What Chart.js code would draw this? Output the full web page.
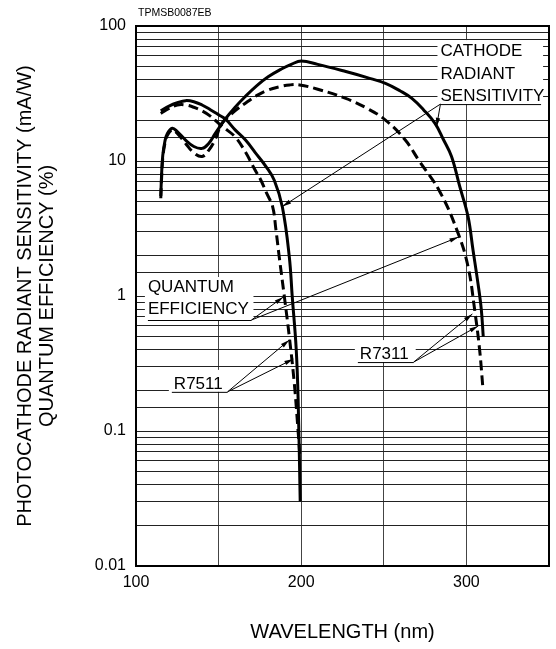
<!DOCTYPE html>
<html>
<head>
<meta charset="utf-8">
<script src="https://cdn.jsdelivr.net/npm/chart.js@4.4.0/dist/chart.umd.min.js"></script>
<style>
html, body { margin: 0; padding: 0; background: #fff; }
</style>
</head>
<body>
<canvas id="chart" width="556" height="649"></canvas>
<script>
// wavelength (nm) / value pairs
var r7511RadNm  = [115, 120, 125, 130, 135, 140, 145, 150, 154.2, 160, 166.3, 172.3, 178.7, 183.7, 188.6, 192.8, 194.6, 197, 198.2, 199.4];
var r7511RadVal = [23.5, 25.5, 27, 28, 27.5, 26, 24, 22, 20.4, 17, 14.3, 11.5, 9.1, 7.2, 4.56, 1.95, 0.98, 0.4, 0.16, 0.03];

var r7511QeNm  = [115, 120, 125, 130, 135, 140, 145, 150, 155, 160, 166, 172, 175.6, 179, 182.7, 184.7, 186.7, 189.8, 192.8, 195.8, 198.2, 199.2];
var r7511QeVal = [22.5, 24.5, 26, 26, 25, 23.5, 21.5, 19, 17, 15.1, 11.8, 8.6, 7.2, 5.8, 4.6, 3.1, 1.95, 0.99, 0.5, 0.227, 0.097, 0.065];

var r7311RadNm  = [115, 115.5, 116.2, 117.5, 119, 122, 125, 130, 135, 140, 144, 148, 154, 160, 166, 173, 180, 188, 194, 200, 210, 227, 240, 251, 260, 267, 274, 281, 286, 291, 296, 301, 304, 307, 309, 310.2];
var r7311RadVal = [5.5, 8, 11, 14, 16, 17.5, 16.5, 14.3, 12.8, 12.4, 13.5, 16, 20.4, 25, 29.9, 36, 42, 48, 52, 55, 52, 46, 41.5, 37.6, 33, 29.1, 24, 19, 14.5, 10.8, 6.45, 3.87, 2.19, 1.24, 0.8, 0.5];

var r7311QeNm  = [115, 115.5, 116.2, 117.5, 119, 122, 125, 130, 135, 140, 144, 148, 152, 159, 166, 173, 180, 187, 193, 199, 210, 227, 240, 251, 263, 271, 284, 295, 301, 305, 308, 310];
var r7311QeVal = [5.3, 7.5, 10.5, 13.5, 15.5, 17, 16, 13.5, 11.5, 10.8, 12, 14.5, 19, 23, 26.7, 30.5, 33.6, 35.5, 36.6, 36.6, 34, 29.1, 24.5, 20.1, 14.3, 10.2, 5.9, 2.91, 1.65, 0.79, 0.4, 0.207];

var xTickLabels = [100, 200, 300];
var yTickLabels = [0.01, 0.1, 1, 10, 100];

// callouts: text, underline (nm from/to, value), arrow targets (nm, value)
var notes = [
    {text: ['CATHODE', 'RADIANT', 'SENSITIVITY'], x0: 284.3, x1: 345.2, y: 26.4, pad: 0, gap: 3, from: 'left', to: [[188.6, 4.6], [281.9, 17.9]]},
    {text: ['QUANTUM', 'EFFICIENCY'], x0: 107.2, x1: 169.9, y: 0.664, pad: 0, gap: 6, from: 'right', to: [[189.2, 0.983], [295.2, 2.73]]},
    {text: ['R7511'], x0: 121.7, x1: 155.4, y: 0.195, pad: 2, gap: 3, from: 'right', to: [[192.8, 0.472], [195.2, 0.341]]},
    {text: ['R7311'], x0: 234.3, x1: 268.1, y: 0.324, pad: 2, gap: 3, from: 'right', to: [[303.6, 0.736], [307.2, 0.6]]}
];

function pts(xs, ys) {
    return xs.map((x, i) => ({x: x, y: ys[i]}));
}

var FONT = '"Liberation Sans", Arial, sans-serif';

function arrow(ctx, x1, y1, x2, y2) {
    ctx.beginPath();
    ctx.moveTo(x1, y1);
    ctx.lineTo(x2, y2);
    ctx.stroke();
    var a = Math.atan2(y2 - y1, x2 - x1);
    var len = 9, w = 2.2;
    ctx.beginPath();
    ctx.moveTo(x2, y2);
    ctx.lineTo(x2 - len * Math.cos(a) + w * Math.sin(a), y2 - len * Math.sin(a) - w * Math.cos(a));
    ctx.lineTo(x2 - len * Math.cos(a) - w * Math.sin(a), y2 - len * Math.sin(a) + w * Math.cos(a));
    ctx.closePath();
    ctx.fill();
}

var extras = {
    id: 'extras',
    afterDatasetsDraw(chart) {
        var ctx = chart.ctx, xs = chart.scales.x, ys = chart.scales.y, ca = chart.chartArea;
        ctx.save();
        // frame
        ctx.strokeStyle = '#000';
        ctx.lineWidth = 2;
        ctx.strokeRect(ca.left, ca.top, ca.right - ca.left, ca.bottom - ca.top);

        ctx.font = '17px ' + FONT;
        ctx.textBaseline = 'alphabetic';
        ctx.textAlign = 'left';
        for (var n of notes) {
            var px0 = xs.getPixelForValue(n.x0), px1 = xs.getPixelForValue(n.x1);
            var py = ys.getPixelForValue(n.y);
            var top = py - n.text.length * 21 - 1;
            ctx.fillStyle = '#fff';
            ctx.fillRect(px0 - 3, top, px1 - px0 + 5, py - top);
            ctx.fillStyle = '#000';
            for (var i = 0; i < n.text.length; i++) {
                var base = py - n.gap - (n.text.length - 1 - i) * 22.5;
                ctx.fillText(n.text[i], px0 + n.pad, base);
            }
            ctx.strokeStyle = '#000';
            ctx.lineWidth = 1;
            ctx.beginPath();
            ctx.moveTo(px0, py + 0.5);
            ctx.lineTo(px1, py + 0.5);
            ctx.stroke();
            var sx = n.from == 'left' ? px0 : px1;
            for (var t of n.to) {
                arrow(ctx, sx, py, xs.getPixelForValue(t[0]), ys.getPixelForValue(t[1]));
            }
        }

        ctx.font = '10.5px ' + FONT;
        ctx.fillText('TPMSB0087EB', 138, 16);
        ctx.restore();
    }
};

var ctx = document.getElementById('chart');

var myChart = new Chart(ctx, {
    type: 'line',
    data: {
        datasets: [
            {label: 'R7511 radiant', data: pts(r7511RadNm, r7511RadVal), borderColor: '#000', borderWidth: 3},
            {label: 'R7511 QE', data: pts(r7511QeNm, r7511QeVal), borderColor: '#000', borderWidth: 3, borderDash: [10, 5]},
            {label: 'R7311 radiant', data: pts(r7311RadNm, r7311RadVal), borderColor: '#000', borderWidth: 3},
            {label: 'R7311 QE', data: pts(r7311QeNm, r7311QeVal), borderColor: '#000', borderWidth: 3, borderDash: [10, 5]}
        ]
    },
    options: {
        responsive: false,
        animation: false,
        events: [],
        layout: {padding: {left: 0, right: 5, top: 26, bottom: 0}},
        elements: {
            point: {radius: 0},
            line: {tension: 0.4, fill: false, borderCapStyle: 'butt'}
        },
        plugins: {legend: {display: false}, tooltip: {enabled: false}},
        scales: {
            x: {
                type: 'linear',
                min: 100,
                max: 350,
                afterFit: s => { s.height = 83; },
                grid: {color: '#444', lineWidth: 1, drawTicks: false},
                border: {display: false},
                ticks: {
                    stepSize: 50,
                    autoSkip: false,
                    maxRotation: 0,
                    padding: 7,
                    color: '#000',
                    font: {family: FONT, size: 16},
                    callback: v => xTickLabels.includes(v) ? String(v) : ''
                },
                title: {
                    display: true,
                    text: 'WAVELENGTH (nm)',
                    color: '#000',
                    font: {family: FONT, size: 20, lineHeight: 1.1},
                    padding: {top: 0, bottom: 6}
                }
            },
            y: {
                type: 'logarithmic',
                min: 0.01,
                max: 100,
                afterFit: s => { s.width = 136; },
                grid: {color: '#222', lineWidth: 1, drawTicks: false},
                border: {display: false},
                ticks: {
                    autoSkip: false,
                    padding: 10,
                    color: '#000',
                    font: {family: FONT, size: 16},
                    callback: v => yTickLabels.includes(v) ? String(v) : ''
                },
                title: {
                    display: true,
                    text: ['PHOTOCATHODE RADIANT SENSITIVITY (mA/W)', 'QUANTUM EFFICIENCY (%)'],
                    color: '#000',
                    font: {family: FONT, size: 20, lineHeight: 1.1},
                    padding: {top: 14, bottom: 0}
                }
            }
        }
    },
    plugins: [extras]
});
</script>
</body>
</html>
